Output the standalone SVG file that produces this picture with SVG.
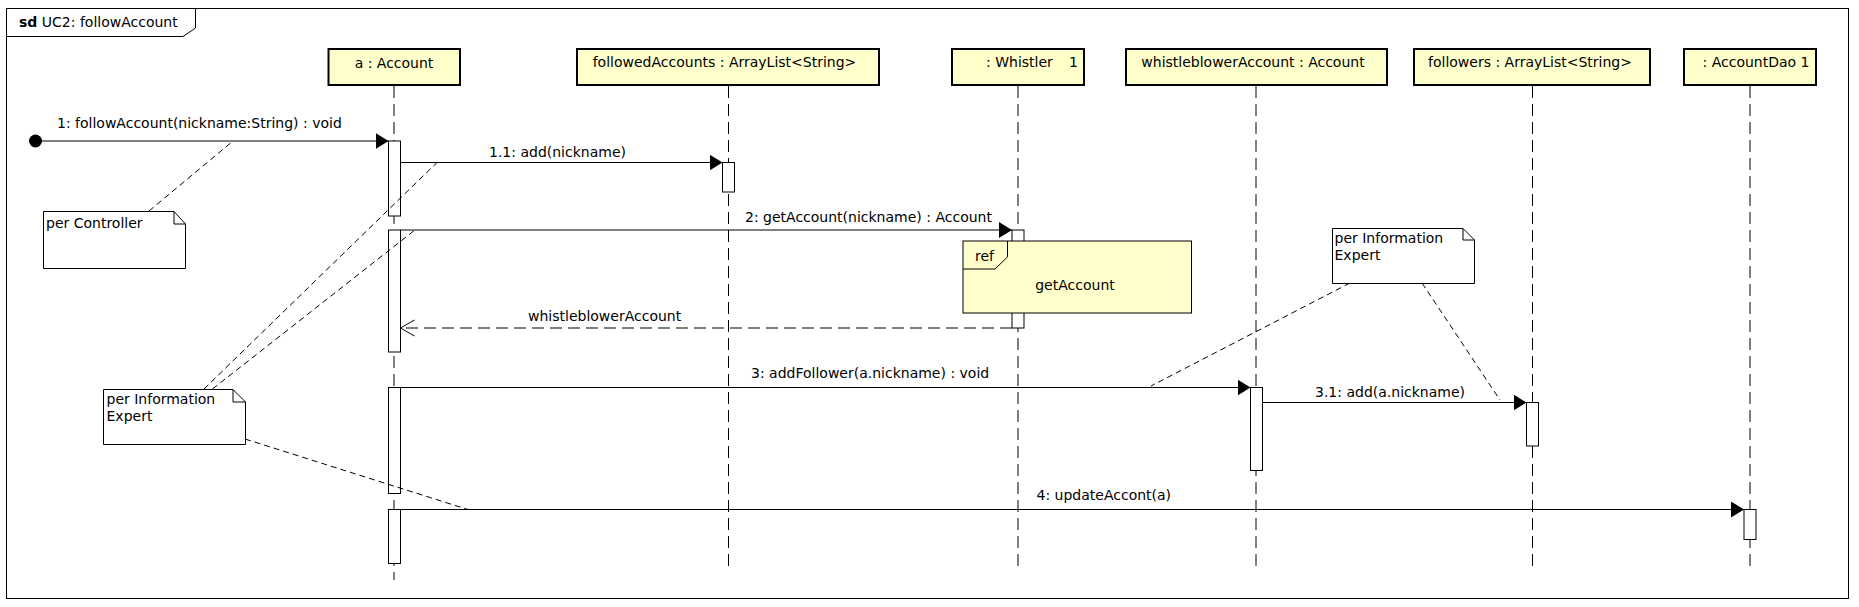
<svg xmlns="http://www.w3.org/2000/svg" width="1859" height="607" viewBox="0 0 1859 607">
<style>
.t{font-family:"DejaVu Sans","Liberation Sans",sans-serif;font-size:14px;fill:#000}
.b{font-weight:bold}
.head{fill:#ffffcc;stroke:#000;stroke-width:2}
.life{stroke:#000;stroke-width:1;stroke-dasharray:12 6;fill:none}
.act{fill:#fff;stroke:#000;stroke-width:1}
.msg{stroke:#000;stroke-width:1;fill:none}
.ret{stroke:#000;stroke-width:1;fill:none;stroke-dasharray:12 6}
.note{fill:#fff;stroke:#000;stroke-width:1}
.anch{stroke:#000;stroke-width:1;fill:none;stroke-dasharray:6 4}
</style>
<defs>
<marker id="filled" markerWidth="13" markerHeight="16" refX="13" refY="8" orient="auto" markerUnits="userSpaceOnUse">
<path d="M0,0 L13,8 L0,16 Z" fill="#000"/>
</marker>
<marker id="open" markerWidth="15" markerHeight="18" refX="14" refY="9" orient="auto" markerUnits="userSpaceOnUse">
<path d="M0,1 L14,9 L0,17" fill="none" stroke="#000" stroke-width="1"/>
</marker>
</defs>
<rect width="1859" height="607" fill="#fff"/>
<g id="frame">
<rect x="6.5" y="8.5" width="1842" height="590" fill="none" stroke="#000" stroke-width="1"/>
<path d="M6.5,36.5 H183 L195.5,28 V8.5" fill="none" stroke="#000" stroke-width="1"/>
<text class="t" x="19" y="27"><tspan class="b">sd</tspan> UC2: followAccount</text>
</g>
<g id="lifelines">
<line class="life" x1="394" y1="86" x2="394" y2="580"/>
<line class="life" x1="728.5" y1="86" x2="728.5" y2="567"/>
<line class="life" x1="1018" y1="86" x2="1018" y2="567"/>
<line class="life" x1="1256" y1="86" x2="1256" y2="567"/>
<line class="life" x1="1532.5" y1="86" x2="1532.5" y2="567"/>
<line class="life" x1="1750" y1="86" x2="1750" y2="567"/>
</g>
<g id="n_a">
<rect class="head" x="328.5" y="49" width="131.5" height="36"/>
<text class="t" x="394" y="68" text-anchor="middle">a : Account</text>
</g>
<g id="n_followedAccounts">
<rect class="head" x="577" y="49" width="302" height="36"/>
<text class="t" x="724.5" y="67" text-anchor="middle">followedAccounts : ArrayList&lt;String&gt;</text>
</g>
<g id="n_whistler">
<rect class="head" x="952" y="49" width="132" height="36"/>
<text class="t" y="67"><tspan x="986">: Whistler</tspan><tspan x="1069">1</tspan></text>
</g>
<g id="n_whistleblowerAccount">
<rect class="head" x="1126" y="49" width="261" height="36"/>
<text class="t" x="1253" y="67" text-anchor="middle">whistleblowerAccount : Account</text>
</g>
<g id="n_followers">
<rect class="head" x="1414" y="49" width="236" height="36"/>
<text class="t" x="1530" y="67" text-anchor="middle">followers : ArrayList&lt;String&gt;</text>
</g>
<g id="n_accountDao">
<rect class="head" x="1684" y="49" width="132" height="36"/>
<text class="t" x="1756" y="67" text-anchor="middle">: AccountDao 1</text>
</g>
<g id="activations">
<rect class="act" x="388.5" y="141" width="12" height="75"/>
<rect class="act" x="388.5" y="230" width="12" height="122"/>
<rect class="act" x="388.5" y="387.5" width="12" height="106"/>
<rect class="act" x="388.5" y="509.5" width="12" height="54"/>
<rect class="act" x="722.5" y="162.5" width="12" height="29.5"/>
<rect class="act" x="1012" y="230" width="12" height="98"/>
<rect class="act" x="1250.5" y="387.5" width="12" height="83"/>
<rect class="act" x="1526.5" y="402.5" width="12" height="43.5"/>
<rect class="act" x="1744" y="509.5" width="12" height="30"/>
</g>
<g id="ref_getAccount">
<rect x="963" y="241" width="228.5" height="72" fill="#ffffcc" stroke="#000" stroke-width="1"/>
<path d="M963,269 H995 L1007.5,257 V241" fill="none" stroke="#000" stroke-width="1"/>
<text class="t" x="975" y="261">ref</text>
<text class="t" x="1075" y="290" text-anchor="middle">getAccount</text>
</g>
<g id="connectors">
<circle cx="35.5" cy="141" r="6.5" fill="#000"/>
<line class="msg" x1="35.5" y1="141" x2="388.5" y2="141" marker-end="url(#filled)"/>
<text class="t" x="57" y="128">1: followAccount(nickname:String) : void</text>
<line class="msg" x1="400.5" y1="162.5" x2="722.5" y2="162.5" marker-end="url(#filled)"/>
<text class="t" x="489" y="157">1.1: add(nickname)</text>
<line class="msg" x1="400.5" y1="230" x2="1012" y2="230" marker-end="url(#filled)"/>
<text class="t" x="745" y="222">2: getAccount(nickname) : Account</text>
<line class="ret" x1="1012" y1="328" x2="400.5" y2="328" marker-end="url(#open)"/>
<text class="t" x="528" y="321">whistleblowerAccount</text>
<line class="msg" x1="400.5" y1="387.5" x2="1250.5" y2="387.5" marker-end="url(#filled)"/>
<text class="t" x="751" y="378">3: addFollower(a.nickname) : void</text>
<line class="msg" x1="1262.5" y1="402.5" x2="1526.5" y2="402.5" marker-end="url(#filled)"/>
<text class="t" x="1315" y="397">3.1: add(a.nickname)</text>
<line class="msg" x1="400.5" y1="509.5" x2="1744" y2="509.5" marker-end="url(#filled)"/>
<text class="t" x="1036.5" y="500">4: updateAccont(a)</text>
<line class="anch" x1="149" y1="211" x2="233" y2="141"/>
<line class="anch" x1="204" y1="389" x2="437" y2="162.5"/>
<line class="anch" x1="212.5" y1="389" x2="415" y2="230"/>
<line class="anch" x1="245" y1="439" x2="468" y2="509.5"/>
<line class="anch" x1="1350" y1="283" x2="1151" y2="386"/>
<line class="anch" x1="1422" y1="283" x2="1500" y2="400"/>
</g>
<g id="note_controller">
<path class="note" d="M43.5,211.5 H174 L185.5,224 V268.5 H43.5 Z"/>
<path d="M174,211.5 V224 H185.5" fill="none" stroke="#000" stroke-width="1"/>
<text class="t" x="46" y="228">per Controller</text>
</g>
<g id="note_expert_left">
<path class="note" d="M103.5,389.5 H233 L245.5,402 V444.5 H103.5 Z"/>
<path d="M233,389.5 V402 H245.5" fill="none" stroke="#000" stroke-width="1"/>
<text class="t" x="106.5" y="404">per Information</text>
<text class="t" x="106.5" y="421">Expert</text>
</g>
<g id="note_expert_right">
<path class="note" d="M1332.5,228.5 H1463 L1474.5,240 V283.5 H1332.5 Z"/>
<path d="M1463,228.5 V240 H1474.5" fill="none" stroke="#000" stroke-width="1"/>
<text class="t" x="1334.5" y="243">per Information</text>
<text class="t" x="1334.5" y="260">Expert</text>
</g>
</svg>
